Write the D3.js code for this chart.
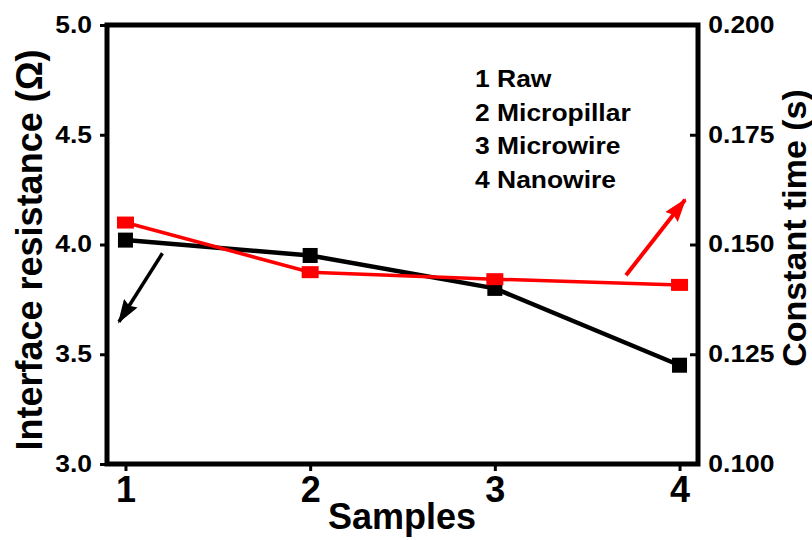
<html>

<head>
    <script src="https://cdnjs.cloudflare.com/ajax/libs/d3/7.8.5/d3.min.js"></script>
    <style>
        body { margin: 0; background: #fff; }
        text { font-family: "Liberation Sans", Arial, sans-serif; font-weight: bold; fill: #000; }
    </style>
</head>

<body>
    <script>
        // data
        var samples = [1, 2, 3, 4];
        var resistance = [4.02, 3.95, 3.80, 3.45];        // left axis, ohm
        var constTime = [0.1550, 0.1437, 0.1421, 0.1408];  // right axis, s
        var legendLines = ["1 Raw", "2 Micropillar", "3 Microwire", "4 Nanowire"];
        var leftTicks = [3.0, 3.5, 4.0, 4.5, 5.0];
        var rightTicks = [0.100, 0.125, 0.150, 0.175, 0.200];
        // arrow annotations, in data units: [x0, y0, x1, y1]
        var blackArrow = [1.20, 3.96, 0.965, 3.648];
        var redArrow = [3.71, 0.143, 4.03, 0.1602];

        var w = 812,
            h = 540;
        var plotL = 107, plotR = 698, plotT = 25, plotB = 464;

        var x = d3.scaleLinear().domain([0.9, 4.1]).range([plotL, plotR]);
        var yL = d3.scaleLinear().domain([3, 5]).range([plotB, plotT]);
        var yR = d3.scaleLinear().domain([0.1, 0.2]).range([plotB, plotT]);

        var svg = d3.select("body")
            .append("svg")
            .attr("width", w)
            .attr("height", h);

        var defs = svg.append("defs");
        function arrowHead(id, color) {
            defs.append("marker")
                .attr("id", id)
                .attr("markerUnits", "userSpaceOnUse")
                .attr("viewBox", "0 0 24 16")
                .attr("refX", 22).attr("refY", 8)
                .attr("markerWidth", 24).attr("markerHeight", 16)
                .attr("orient", "auto")
                .append("path")
                .attr("d", "M0,0 L24,8 L0,16 L3,8 Z")
                .attr("fill", color);
        }
        arrowHead("headBlack", "#000");
        arrowHead("headRed", "#f00");

        // axes
        var gLeft = svg.append("g")
            .attr("transform", "translate(" + plotL + ",0)")
            .call(d3.axisLeft(yL).tickValues(leftTicks).tickFormat(d3.format(".1f"))
                .tickSizeInner(7).tickSizeOuter(0).tickPadding(6));

        var gRight = svg.append("g")
            .attr("transform", "translate(" + plotR + ",0)")
            .call(d3.axisRight(yR).tickValues(rightTicks).tickFormat(d3.format(".3f"))
                .tickSizeInner(-8).tickSizeOuter(0).tickPadding(9));

        var gBottom = svg.append("g")
            .attr("transform", "translate(0," + plotB + ")")
            .call(d3.axisBottom(x).tickValues(samples).tickFormat(d3.format("d"))
                .tickSizeInner(7).tickSizeOuter(0));

        svg.selectAll(".domain").remove();
        svg.selectAll(".tick line").attr("stroke", "#000").attr("stroke-width", 3);

        gLeft.selectAll("text")
            .style("font-size", "23px")
            .attr("transform", "scale(1.15,1)");
        gRight.selectAll("text")
            .style("font-size", "23px")
            .attr("transform", "scale(1.15,1)");
        gBottom.selectAll("text")
            .style("font-size", "36px")
            .attr("y", 38)
            .attr("dy", 0);

        svg.append("rect")
            .attr("x", plotL).attr("y", plotT)
            .attr("width", plotR - plotL).attr("height", plotB - plotT)
            .attr("fill", "none")
            .attr("stroke", "#000")
            .attr("stroke-width", 5);

        // series
        var lineL = d3.line()
            .x(function (d, i) { return x(samples[i]); })
            .y(function (d) { return yL(d); });
        var lineR = d3.line()
            .x(function (d, i) { return x(samples[i]); })
            .y(function (d) { return yR(d); });

        svg.append("path")
            .datum(resistance)
            .attr("d", lineL)
            .attr("fill", "none")
            .attr("stroke", "#000")
            .attr("stroke-width", 4.5);

        svg.append("path")
            .datum(constTime)
            .attr("d", lineR)
            .attr("fill", "none")
            .attr("stroke", "#f00")
            .attr("stroke-width", 3.5);

        svg.selectAll("rect.blk")
            .data(resistance)
            .enter()
            .append("rect")
            .attr("class", "blk")
            .attr("x", function (d, i) { return x(samples[i]) - 7.5; })
            .attr("y", function (d) { return yL(d) - 7.5; })
            .attr("width", 15).attr("height", 15)
            .attr("fill", "#000");

        svg.selectAll("rect.red")
            .data(constTime)
            .enter()
            .append("rect")
            .attr("class", "red")
            .attr("x", function (d, i) { return x(samples[i]) - 8.5; })
            .attr("y", function (d) { return yR(d) - 6; })
            .attr("width", 17).attr("height", 12)
            .attr("fill", "#f00");

        // arrows
        svg.append("line")
            .attr("x1", x(blackArrow[0])).attr("y1", yL(blackArrow[1]))
            .attr("x2", x(blackArrow[2])).attr("y2", yL(blackArrow[3]))
            .attr("stroke", "#000").attr("stroke-width", 3.5)
            .attr("marker-end", "url(#headBlack)");

        svg.append("line")
            .attr("x1", x(redArrow[0])).attr("y1", yR(redArrow[1]))
            .attr("x2", x(redArrow[2])).attr("y2", yR(redArrow[3]))
            .attr("stroke", "#f00").attr("stroke-width", 4)
            .attr("marker-end", "url(#headRed)");

        // legend text
        svg.selectAll("text.leg")
            .data(legendLines)
            .enter()
            .append("text")
            .attr("class", "leg")
            .attr("transform", function (d, i) {
                return "translate(475," + (87 + i * 33.7) + ") scale(1.15,1)";
            })
            .style("font-size", "23px")
            .text(function (d) { return d; });

        // axis titles
        svg.append("text")
            .attr("transform", "translate(42,250) rotate(-90)")
            .attr("text-anchor", "middle")
            .style("font-size", "36px")
            .text("Interface resistance (Ω)");

        svg.append("text")
            .attr("transform", "translate(806,228) rotate(-90)")
            .attr("text-anchor", "middle")
            .style("font-size", "34px")
            .text("Constant time (s)");

        svg.append("text")
            .attr("x", 402).attr("y", 529)
            .attr("text-anchor", "middle")
            .style("font-size", "36px")
            .text("Samples");
    </script>
</body>

</html>
